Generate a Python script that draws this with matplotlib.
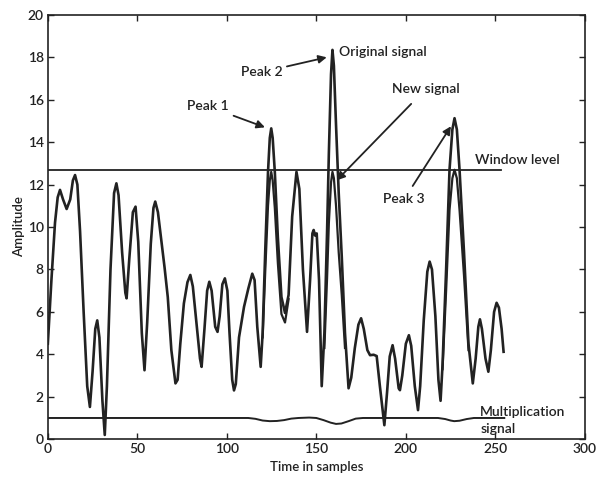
import matplotlib
matplotlib.use("Agg")
import matplotlib.pyplot as plt

plt.rcParams['font.family'] = ['Lato', 'DejaVu Sans']

# ---- original signal ----
orig_x = [0, 2, 4, 5.5, 6.8, 8.5, 10.5, 12.5, 14, 15.2, 16.5, 18, 20, 22, 23.5,
          25, 26.5, 27.6, 28.8, 30.5, 31.8, 33, 35, 37, 38.3, 39.5, 41.5, 43.3, 44,
          45.5, 47.5, 49, 50.5, 52.5, 54, 55.5, 57.5, 59, 60, 61.5, 63.5, 65.2, 67,
          69, 71.3, 72.5, 74, 76, 78, 79.6, 81, 83, 85, 85.9, 87.5, 89, 90.2, 91.5,
          93.5, 94.8, 96, 97.5, 98.9, 100.3, 101.5, 103, 104, 105, 106.8, 109.6, 112,
          114.2, 115.5, 117, 118.9, 120, 121.5, 123, 124, 124.8, 125.6, 126.8, 128.5,
          130.5, 132.5, 134.5, 136.5, 138.9, 140.5, 142.5, 144.8, 146.5, 147.8, 148.5,
          149.3, 150.2, 151.5, 153, 154.5, 156, 157, 158.2, 159, 159.8, 161, 162.5,
          164.2, 166, 168, 169.5, 171.5, 173.5, 175, 176.5, 178.5, 180, 182, 183.7,
          185.5, 188, 189.5, 191, 192.6, 194, 196, 196.7, 198, 200, 201.7, 203, 205,
          206.8, 208, 210, 212, 213.3, 214.6, 216.5, 218.2, 219.4, 220.5, 222.5, 224.4,
          226, 227.2, 228.5, 230, 232.5, 235, 237.4, 239, 240.5, 241.4, 242.5, 244.5,
          246.1, 247.5, 249.3, 250.7, 252, 253.5, 254.6]
orig_y = [4.5, 7.5, 10.2, 11.4, 11.75, 11.3, 10.85, 11.3, 12.2, 12.45, 12.0, 9.8, 6.0,
          2.5, 1.52, 3.2, 5.2, 5.6, 4.8, 1.8, 0.2, 2.5, 8.0, 11.6, 12.06, 11.5, 8.8,
          6.9, 6.64, 8.5, 10.7, 10.96, 9.3, 5.0, 3.25, 5.5, 9.2, 10.9, 11.2, 10.7, 9.3,
          8.1, 6.7, 4.2, 2.63, 2.8, 4.5, 6.4, 7.4, 7.74, 7.2, 5.5, 3.8, 3.41, 5.2, 7.0,
          7.42, 7.0, 5.3, 5.06, 5.8, 7.3, 7.58, 7.0, 5.0, 2.8, 2.3, 2.6, 4.8, 6.24, 7.1,
          7.8, 7.5, 5.3, 3.41, 5.0, 9.0, 12.6, 14.2, 14.65, 14.2, 12.6, 9.5, 6.7, 5.95,
          6.8, 10.5, 12.6, 11.8, 8.0, 5.06, 7.5, 9.7, 9.86, 9.6, 9.7, 7.5, 2.5, 5.0,
          9.8, 13.5, 17.2, 18.35, 17.6, 14.8, 11.6, 8.6, 5.0, 2.4, 2.9, 4.3, 5.4, 5.7,
          5.2, 4.2, 3.96, 3.98, 3.92, 2.5, 0.66, 2.2, 3.9, 4.43, 3.8, 2.4, 2.31, 3.0,
          4.5, 4.9, 4.4, 2.5, 1.37, 2.5, 5.6, 7.9, 8.37, 8.0, 5.8, 2.8, 1.81, 3.5, 8.0,
          12.7, 14.6, 15.13, 14.6, 12.7, 8.8, 4.5, 2.63, 3.8, 5.3, 5.65, 5.2, 3.8, 3.18,
          4.2, 6.0, 6.43, 6.2, 5.2, 4.12]

# ---- new signal, only where it departs from the original (the three peaks) ----
new1_x = [120, 121.5, 123, 124, 124.8, 125.6, 126.8, 128.5, 130.5, 132.5, 134.5]
new1_y = [4.8, 8.0, 11.0, 12.2, 12.6, 12.2, 10.9, 8.3, 5.9, 5.5, 6.6]
new2_x = [154.5, 156, 157, 158.2, 159, 159.8, 161, 162.5, 164.2, 166]
new2_y = [4.3, 7.6, 10.2, 12.1, 12.6, 12.3, 11.0, 8.8, 6.8, 4.3]
new3_x = [220.5, 222.5, 224.4, 226, 227.2, 228.5, 230, 232.5, 235]
new3_y = [3.3, 7.0, 10.8, 12.3, 12.7, 12.3, 10.8, 7.7, 4.2]

# ---- multiplication signal ----
mult_x = [0, 112, 116, 120, 124, 128, 132, 136, 140, 146, 150, 154, 158, 161, 164,
          168, 172, 176, 200, 218, 222, 225, 227, 230, 234, 238, 255]
mult_y = [1.0, 1.0, 0.96, 0.88, 0.85, 0.86, 0.9, 0.97, 1.0, 1.02, 1.0, 0.9, 0.78,
          0.72, 0.74, 0.85, 0.97, 1.0, 1.0, 1.0, 0.95, 0.88, 0.85, 0.87, 0.95, 1.0, 1.0]

window_level = 12.7
window_x = [0, 253]

INK = '#222222'

fig = plt.figure(figsize=(5.98, 4.8), dpi=100)
ax = fig.add_axes([0.08, 0.085, 0.898, 0.884])

ax.plot(orig_x, orig_y, color=INK, lw=1.9, solid_joinstyle='round')
for nx, ny in [(new1_x, new1_y), (new2_x, new2_y), (new3_x, new3_y)]:
    ax.plot(nx, ny, color=INK, lw=1.6, solid_joinstyle='round')
ax.plot(mult_x, mult_y, color=INK, lw=1.4)
ax.plot(window_x, [window_level, window_level], color=INK, lw=1.3)

ax.set_xlim(0, 300)
ax.set_ylim(0, 20)
ax.set_xticks(range(0, 301, 50))
ax.set_yticks(range(0, 21, 2))
ax.tick_params(direction='in', top=True, right=True, length=4, width=1,
               labelsize=10, colors=INK, pad=3)
for lbl in ax.get_xticklabels() + ax.get_yticklabels():
    lbl.set_fontweight('semibold')
for s in ax.spines.values():
    s.set_linewidth(1.2)
    s.set_color(INK)

ax.set_xlabel('Time in samples', fontsize=9.5, color=INK, labelpad=4,
              fontweight='semibold')
ax.set_ylabel('Amplitude', fontsize=9.5, color=INK, labelpad=2,
              fontweight='semibold')

arrow = dict(arrowstyle='-|>', color=INK, lw=1.3, mutation_scale=12)
tk = dict(fontsize=10, color=INK, fontweight='semibold')

ax.annotate('Peak 1', xy=(121.3, 14.7), xytext=(77.5, 15.7), va='center',
            arrowprops=dict(arrow, shrinkA=2, shrinkB=0), **tk)
ax.annotate('Peak 2', xy=(155.8, 18.0), xytext=(108, 17.3), va='center',
            arrowprops=dict(arrow, shrinkA=1, shrinkB=0), **tk)
ax.text(162.5, 18.25, 'Original signal', va='center', **tk)
ax.annotate('New signal', xy=(161.4, 12.2), xytext=(211, 16.5), ha='center',
            va='center', arrowprops=dict(arrow, shrinkA=6, shrinkB=0), **tk)
ax.text(238.5, 13.15, 'Window level', va='center', **tk)
ax.annotate('Peak 3', xy=(225.2, 14.75), xytext=(199, 11.3), ha='center',
            va='center', arrowprops=dict(arrow, shrinkA=4, shrinkB=0), **tk)
ax.text(241.5, 1.27, 'Multiplication', va='center', **tk)
ax.text(241.5, 0.5, 'signal', va='center', **tk)

fig.savefig('out.png', dpi=100)
